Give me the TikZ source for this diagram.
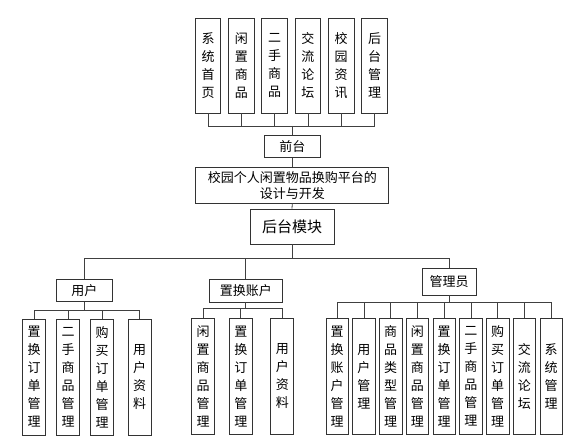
\documentclass[tikz,border=0pt]{standalone}
\usepackage{fontspec}
\setmainfont{Noto Sans CJK SC}
\usetikzlibrary{calc}

\begin{document}
\begin{tikzpicture}[x=1pt,y=-1pt,link/.style={draw=black!75,line width=0.8pt}]
	\tikzset{box/.style={draw=black!80,line width=0.9pt,rectangle,inner sep=0pt,align=center,fill=white,font=\fontsize{13}{18}\selectfont}}
	\tikzset{vbox/.style={box,minimum width=23pt,minimum height=116pt}}

	\useasboundingbox (0,0) rectangle (567,441);

	% Front part
	\foreach \t [count=\i] in {{系\\统\\首\\页},{闲\\置\\商\\品},{二\\手\\商\\品},{交\\流\\论\\坛},{校\\园\\资\\讯},{后\\台\\管\\理}}
		\node[box,minimum width=25.5pt,minimum height=95pt] (q\i) at ({208+33.3*(\i-1)},65.5) {\t};

	\node[box,minimum width=56.7pt,minimum height=22.7pt] (qt) at (292.3,146.4) {前台};
	\node[box,minimum width=193pt,minimum height=35.3pt,font=\fontsize{13}{16.5}\selectfont] (sys) at (292.3,185.3) {校园个人闲置物品换购平台的\\设计与开发};
	\node[box,minimum width=84pt,minimum height=35pt,font=\fontsize{15}{18}\selectfont] (ht) at (292,226.5) {后台模块};

	\coordinate (qbus) at (292.3,126);
	\foreach \i in {1,...,6}
		\draw[link] (q\i.south) |- (qbus);
	\draw[link] (qbus) -- (qt.north);
	\draw[link] (qt.south) -- (sys.north);
	\draw[link] (sys.south) -- (ht.north);

	% Back part
	\node[box,minimum width=56.7pt,minimum height=22.7pt] (yh) at (84.4,290.4) {用户};
	\node[box,minimum width=73.7pt,minimum height=23pt] (zh) at (245.8,290.5) {置换账户};
	\node[box,minimum width=54pt,minimum height=27pt] (gly) at (449,281.5) {管理员};

	\coordinate (hbus) at (292,258);
	\draw[link] (ht.south) -- (hbus);
	\foreach \n in {yh,zh,gly}
		\draw[link] (hbus) -| (\n.north);

	% User
	\coordinate (ybus) at (84.4,310);
	\foreach \x/\t [count=\i] in {34.2/{置\\换\\订\\单\\管\\理},68/{二\\手\\商\\品\\管\\理},102/{购\\买\\订\\单\\管\\理},139.5/{用\\户\\资\\料}}
		{
		\node[vbox] (y\i) at (\x,377) {\t};
		\draw[link] (y\i.north) |- (ybus);
		}
	\draw[link] (yh.south) -- (ybus);

	% Exchange account
	\coordinate (zbus) at (245.8,308.3);
	\foreach \x/\t [count=\i] in {203/{闲\\置\\商\\品\\管\\理},240.8/{置\\换\\订\\单\\管\\理},282.3/{用\\户\\资\\料}}
		{
		\node[vbox] (z\i) at (\x,376.5) {\t};
		\draw[link] (z\i.north) |- (zbus);
		}
	\draw[link] (zh.south) -- (zbus);

	% Administrator
	\coordinate (gbus) at (449,302.7);
	\foreach \t [count=\i] in {{置\\换\\账\\户\\管\\理},{用\\户\\管\\理},{商\\品\\类\\型\\管\\理},{闲\\置\\商\\品\\管\\理},{置\\换\\订\\单\\管\\理},{二\\手\\商\\品\\管\\理},{购\\买\\订\\单\\管\\理},{交\\流\\论\\坛},{系\\统\\管\\理}}
		{
		\node[vbox,minimum width=22.5pt] (g\i) at ({337.2+26.75*(\i-1)},376.5) {\t};
		\draw[link] (g\i.north) |- (gbus);
		}
	\draw[link] (gly.south) -- (gbus);

\end{tikzpicture}
\end{document}
